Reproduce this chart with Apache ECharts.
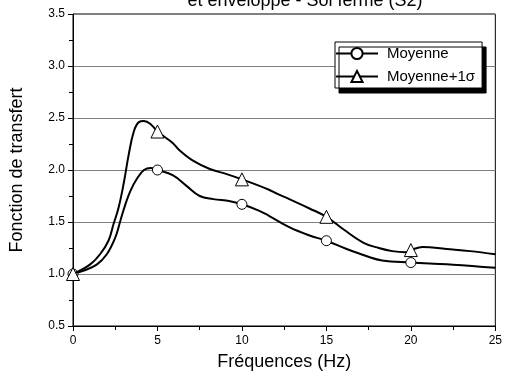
<!DOCTYPE html>
<html><head><meta charset="utf-8">
<script src="https://cdn.jsdelivr.net/npm/echarts@6/dist/echarts.min.js"></script>
<style>html,body{margin:0;padding:0;background:#fff}#c{width:505px;height:381px}</style>
</head><body><div id="c"></div>
<script>
var titleText = "et enveloppe - Sol ferme (S2)";
var xName = "Fréquences (Hz)";
var yName = "Fonction de transfert";
var seriesNames = ["Moyenne", "Moyenne+1\u03c3"];
var markerX = [0, 5, 10, 15, 20];

var meanX = [0, 0.6, 1.4, 2.0, 2.5, 2.8, 3.1, 3.4, 3.8, 4.2, 4.6, 5.0, 5.9, 6.7, 7.5, 8.3, 9.3, 10.0, 11.0, 11.6, 12.8, 14.0, 15.0, 16.2, 17.4, 18.3, 20.0, 21.1, 22.5, 25];
var meanY = [1.0, 1.03, 1.09, 1.19, 1.35, 1.51, 1.67, 1.80, 1.92, 2.00, 2.02, 2.00, 1.95, 1.85, 1.75, 1.72, 1.70, 1.67, 1.61, 1.56, 1.45, 1.37, 1.32, 1.24, 1.17, 1.13, 1.11, 1.10, 1.09, 1.06];

var upX = [0, 1.0, 1.6, 2.1, 2.4, 2.7, 3.0, 3.3, 3.6, 3.9, 4.2, 4.6, 5.0, 5.9, 6.3, 7.1, 8.1, 9.1, 10.0, 11.0, 11.6, 12.1, 12.8, 14.0, 15.0, 16.0, 17.2, 18.1, 18.9, 19.7, 20.0, 20.7, 22.1, 23.5, 25];
var upY = [1.0, 1.09, 1.19, 1.32, 1.48, 1.64, 1.87, 2.15, 2.37, 2.46, 2.47, 2.44, 2.37, 2.26, 2.19, 2.09, 2.01, 1.96, 1.91, 1.85, 1.81, 1.77, 1.72, 1.63, 1.55, 1.43, 1.30, 1.25, 1.22, 1.21, 1.23, 1.26, 1.24, 1.22, 1.19];

function build(xs, ys, sym) {
  return xs.map(function (x, i) {
    return { value: [x, ys[i]], symbol: markerX.indexOf(x) >= 0 ? sym : 'none' };
  });
}

var font = 'Arial, "Liberation Sans", sans-serif';
var chart = echarts.init(document.getElementById('c'), null, { renderer: 'canvas' });
chart.setOption({
  backgroundColor: '#fff',
  animation: false,
  title: {
    text: titleText, left: 300, textAlign: 'center', top: -13,
    textStyle: { fontFamily: font, fontSize: 18, fontWeight: 'normal', color: '#000' }
  },
  grid: { left: 73, right: 9, top: 14, bottom: 55, show: true, borderColor: '#000', borderWidth: 1 },
  legend: {
    orient: 'vertical', left: 335, top: 42,
    padding: [4, 7, 4, 0], itemGap: 8, itemWidth: 42, itemHeight: 14,
    backgroundColor: '#fff', borderColor: '#000', borderWidth: 1,
    shadowColor: '#000', shadowBlur: 0, shadowOffsetX: 4, shadowOffsetY: 5,
    textStyle: { fontFamily: font, fontSize: 15, color: '#000', padding: [0, 0, 0, 4] },
    data: seriesNames
  },
  xAxis: {
    type: 'value', min: 0, max: 25, interval: 5,
    name: xName, nameLocation: 'middle', nameGap: 27,
    nameTextStyle: { fontFamily: font, fontSize: 18, color: '#000' },
    axisLine: { lineStyle: { color: '#000', width: 1 } },
    axisTick: { show: true, inside: false, length: 5, lineStyle: { color: '#000' } },
    minorTick: { show: true, splitNumber: 2, length: 4, lineStyle: { color: '#000' } },
    axisLabel: { fontFamily: font, fontSize: 12, color: '#000', margin: 9 },
    splitLine: { show: false }
  },
  yAxis: {
    type: 'value', min: 0.5, max: 3.5, interval: 0.5,
    name: yName, nameLocation: 'middle', nameGap: 47,
    nameTextStyle: { fontFamily: font, fontSize: 18, color: '#000' },
    axisLine: { show: true, lineStyle: { color: '#000', width: 1 } },
    axisTick: { show: true, inside: false, length: 5, lineStyle: { color: '#000' } },
    minorTick: { show: true, splitNumber: 2, length: 4, lineStyle: { color: '#000' } },
    axisLabel: { fontFamily: font, fontSize: 12, color: '#000', margin: 8,
      formatter: function (v) { return v.toFixed(1); } },
    splitLine: { show: true, lineStyle: { color: '#808080', width: 1 } }
  },
  series: [
    {
      name: seriesNames[0], type: 'line', smooth: 0.4,
      symbol: 'circle', symbolSize: 10, showAllSymbol: true,
      lineStyle: { color: '#000', width: 2 },
      itemStyle: { color: '#fff', borderColor: '#000', borderWidth: 1 },
      data: build(meanX, meanY, 'circle'), z: 3
    },
    {
      name: seriesNames[1], type: 'line', smooth: 0.4,
      symbol: 'triangle', symbolSize: 13, showAllSymbol: true,
      lineStyle: { color: '#000', width: 2 },
      itemStyle: { color: '#fff', borderColor: '#000', borderWidth: 1 },
      data: build(upX, upY, 'triangle'), z: 4
    }
  ]
});
</script></body></html>
